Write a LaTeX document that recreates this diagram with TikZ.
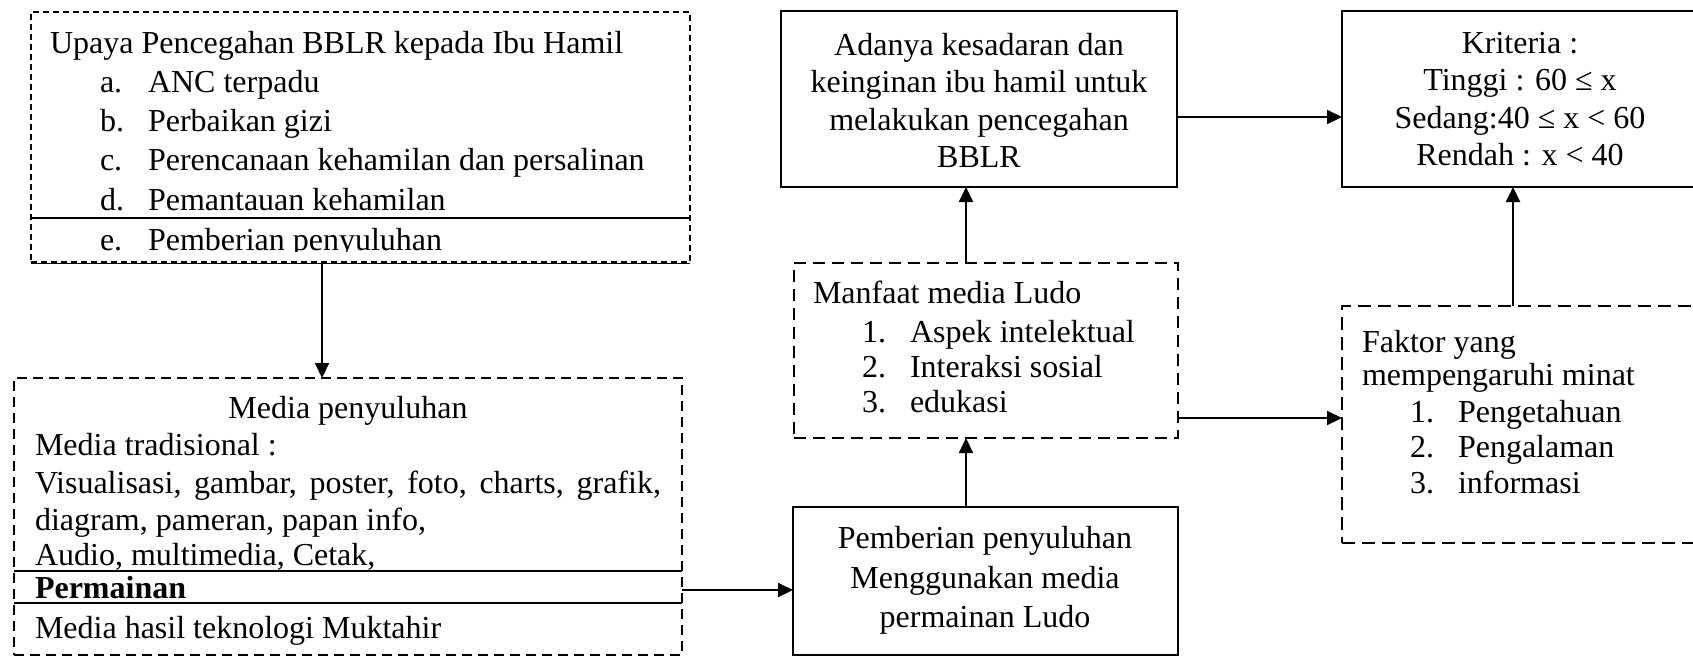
\documentclass[tikz,border=0pt]{standalone}
\usepackage{fontspec}
\setmainfont{Liberation Serif}
\usetikzlibrary{arrows.meta}
\begin{document}
\begin{tikzpicture}[x=1pt,y=-1pt,
  every node/.style={font=\fontsize{32}{38}\selectfont, inner sep=0pt, outer sep=0pt},
  sbox/.style={draw, line width=2pt, rectangle, anchor=north west},
  dbox/.style={draw, line width=2pt, dash pattern=on 10pt off 6pt, rectangle, anchor=north west},
  txt/.style={anchor=base west},
  ctxt/.style={anchor=base},
  divider/.style={line width=2pt},
  arr/.style={line width=2pt, -{Triangle[length=15pt,width=14pt]}}]

\fill[white] (0,0) rectangle (1693,657);
\useasboundingbox (0,0) rectangle (1693,657);

% boxes
\node[dbox, dash pattern=on 6pt off 4pt, line width=1.6pt, minimum width=659pt, minimum height=250pt] (upaya) at (31,12) {};
\node[dbox, minimum width=668pt, minimum height=277pt] (media) at (14,378) {};
\node[dbox, dash pattern=on 12pt off 7pt, minimum width=384pt, minimum height=175pt] (manf) at (794,263) {};
\node[dbox, dash pattern=on 13pt off 7pt, minimum width=356pt, minimum height=237pt] (faktor) at (1342,306) {};
\node[sbox, minimum width=396pt, minimum height=176pt] (adanya) at (781,11) {};
\node[sbox, minimum width=356pt, minimum height=176pt] (krit) at (1342,11) {};
\node[sbox, minimum width=385pt, minimum height=148pt] (pemb) at (793,507) {};

% Upaya box text
\node[txt] (u0) at (50,53) {Upaya Pencegahan BBLR kepada Ibu Hamil};
\node[txt] (ua) at (100,92) {a.};  \node[txt] (uat) at (148,92) {ANC terpadu};
\node[txt] (ub) at (100,131) {b.}; \node[txt] (ubt) at (148,131) {Perbaikan gizi};
\node[txt] (uc) at (100,170) {c.}; \node[txt] (uct) at (148,170) {Perencanaan kehamilan dan persalinan};
\node[txt] (ud) at (100,210) {d.}; \node[txt] (udt) at (148,210) {Pemantauan kehamilan};
\draw[divider] (31,218) -- (690,218);
\begin{scope}
  \clip (31,219) rectangle (690,251);
  \node[txt] (ue) at (100,250) {e.}; \node[txt] (uet) at (148,250) {Pemberian penyuluhan};
\end{scope}
\draw[line width=1pt] (31,263.5) -- (690,263.5);

% Media box text
\node[ctxt] (m0) at (348,418) {Media penyuluhan};
\node[txt] (m1) at (35,455) {Media tradisional :};
\node[txt] (m2) at (35,493) {\makebox[626pt][s]{Visualisasi, gambar, poster, foto, charts, grafik,}};
\node[txt] (m3) at (35,530) {diagram, pameran, papan info,};
\node[txt] (m4) at (35,565) {Audio, multimedia, Cetak,};
\draw[divider] (14,571) -- (682,571);
\node[txt, font=\fontsize{32}{38}\selectfont\bfseries] (m5) at (35,598) {Permainan};
\draw[divider] (14,603) -- (682,603);
\node[txt] (m6) at (35,638) {Media hasil teknologi Muktahir};

% Adanya box text
\node[ctxt] (a1) at (979,55) {Adanya kesadaran dan};
\node[ctxt] (a2) at (979,92) {keinginan ibu hamil untuk};
\node[ctxt] (a3) at (979,130) {melakukan pencegahan};
\node[ctxt] (a4) at (979,167) {BBLR};

% Kriteria box text
\node[ctxt] (k1) at (1520,53) {Kriteria :};
\node[ctxt] (k2) at (1520,90) {Tinggi : 60 ≤ x};
\node[ctxt] (k3) at (1520,128) {Sedang:40 ≤ x < 60};
\node[ctxt] (k4) at (1520,165) {Rendah : x < 40};

% Manfaat box text
\node[txt] (f0) at (813,303) {Manfaat media Ludo};
\node[txt] (f1) at (862,342) {1.}; \node[txt] (f1t) at (910,342) {Aspek intelektual};
\node[txt] (f2) at (862,377) {2.}; \node[txt] (f2t) at (910,377) {Interaksi sosial};
\node[txt] (f3) at (862,412) {3.}; \node[txt] (f3t) at (910,412) {edukasi};

% Faktor box text
\node[txt] (g0) at (1362,352) {Faktor yang};
\node[txt] (g0b) at (1362,385) {mempengaruhi minat};
\node[txt] (g1) at (1410,422) {1.}; \node[txt] (g1t) at (1458,422) {Pengetahuan};
\node[txt] (g2) at (1410,457) {2.}; \node[txt] (g2t) at (1458,457) {Pengalaman};
\node[txt] (g3) at (1410,493) {3.}; \node[txt] (g3t) at (1458,493) {informasi};

% Pemberian box text
\node[ctxt] (p1) at (985,548) {Pemberian penyuluhan};
\node[ctxt] (p2) at (985,588) {Menggunakan media};
\node[ctxt] (p3) at (985,627) {permainan Ludo};

% connector guides
\coordinate (xa) at (322,0);
\coordinate (yb) at (0,590);
\coordinate (xc) at (966,0);
\coordinate (yd) at (0,418);
\coordinate (ye) at (0,117);
\coordinate (xf) at (1513,0);

% connectors
\draw[arr] (upaya.south -| xa) -- (media.north -| xa);
\draw[arr] (media.east |- yb) -- (pemb.west |- yb);
\draw[arr] (pemb.north -| xc) -- (manf.south -| xc);
\draw[arr] (manf.north -| xc) -- (adanya.south -| xc);
\draw[arr] (manf.east |- yd) -- (faktor.west |- yd);
\draw[arr] (adanya.east |- ye) -- (krit.west |- ye);
\draw[arr] (faktor.north -| xf) -- (krit.south -| xf);
\end{tikzpicture}
\end{document}
